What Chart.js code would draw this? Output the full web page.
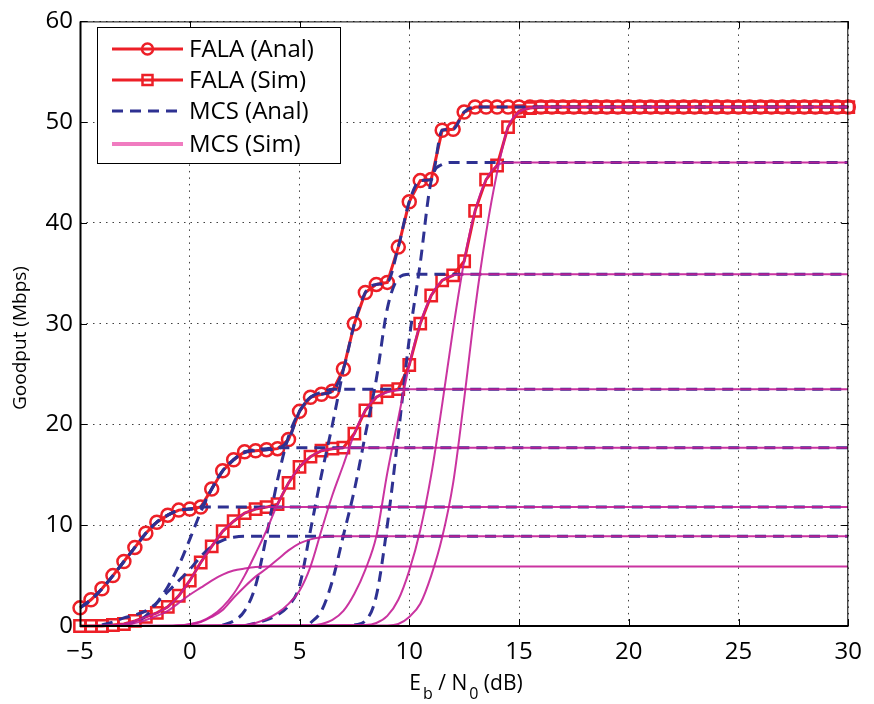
<!DOCTYPE html>
<html>
<head>
<meta charset="utf-8">
<title>Goodput vs Eb/N0</title>
<script src="https://cdn.jsdelivr.net/npm/chart.js@4.4.1/dist/chart.umd.min.js"></script>
<style>
  html, body { margin: 0; padding: 0; background: #fff; }
  #wrap { width: 874px; height: 704px; }
</style>
</head>
<body>
<div id="wrap"><canvas id="goodput-chart"></canvas></div>
<script>
// axis ticks
const xTicks = [-5, 0, 5, 10, 15, 20, 25, 30];
const yTicks = [0, 10, 20, 30, 40, 50, 60];

// Eb/N0 grid of the FALA curves (dB)
const snrGrid = [-5, -4.5, -4, -3.5, -3, -2.5, -2, -1.5, -1, -0.5, 0, 0.5, 1, 1.5, 2, 2.5, 3, 3.5, 4, 4.5,
    5, 5.5, 6, 6.5, 7, 7.5, 8, 8.5, 9, 9.5, 10, 10.5, 11, 11.5, 12, 12.5, 13, 13.5, 14, 14.5,
    15, 15.5, 16, 16.5, 17, 17.5, 18, 18.5, 19, 19.5, 20, 20.5, 21, 21.5, 22, 22.5, 23, 23.5, 24, 24.5,
    25, 25.5, 26, 26.5, 27, 27.5, 28, 28.5, 29, 29.5, 30];

// FALA goodput (Mbps)
const falaAnal = [1.8, 2.6, 3.7, 5.0, 6.4, 7.8, 9.2, 10.3, 11.0, 11.5, 11.6, 11.8, 13.6, 15.4, 16.5, 17.3, 17.4, 17.5, 17.6, 18.5,
    21.3, 22.7, 23.0, 23.3, 25.5, 30.0, 33.1, 33.9, 34.1, 37.6, 42.1, 44.2, 44.3, 49.2, 49.3, 51.0, 51.5, 51.5, 51.5, 51.5,
    51.5, 51.5, 51.5, 51.5, 51.5, 51.5, 51.5, 51.5, 51.5, 51.5, 51.5, 51.5, 51.5, 51.5, 51.5, 51.5, 51.5, 51.5, 51.5, 51.5,
    51.5, 51.5, 51.5, 51.5, 51.5, 51.5, 51.5, 51.5, 51.5, 51.5, 51.5];
const falaSim = [0, 0, 0, 0.1, 0.2, 0.5, 0.9, 1.3, 1.9, 3.0, 4.5, 6.3, 7.9, 9.4, 10.4, 11.2, 11.6, 11.8, 12.1, 14.2,
    15.8, 16.8, 17.4, 17.6, 17.7, 19.1, 21.4, 22.7, 23.3, 23.5, 25.9, 30.0, 32.8, 34.3, 34.8, 36.2, 41.2, 44.3, 45.7, 49.5,
    51.1, 51.4, 51.5, 51.5, 51.5, 51.5, 51.5, 51.5, 51.5, 51.5, 51.5, 51.5, 51.5, 51.5, 51.5, 51.5, 51.5, 51.5, 51.5, 51.5,
    51.5, 51.5, 51.5, 51.5, 51.5, 51.5, 51.5, 51.5, 51.5, 51.5, 51.5];

// MCS simulation curves
const sim59X = [-5, -3.5, -3, -2.5, -2, -1.5, -1, -0.5, 0, 0.5, 1, 1.5, 2, 2.5, 3, 3.5, 4, 30];
const sim59Y = [0, 0, 0.1, 0.3, 0.6, 1.0, 1.5, 2.3, 3.1, 3.8, 4.5, 5.1, 5.5, 5.7, 5.85, 5.9, 5.9, 5.9];
const sim89X = [-5, -1, -0.5, 0, 0.5, 1, 1.5, 2, 2.5, 3, 3.5, 4, 4.5, 5, 5.5, 6, 6.5, 7, 30];
const sim89Y = [0, 0, 0.05, 0.15, 0.4, 0.9, 1.6, 2.8, 3.9, 4.9, 5.7, 6.6, 7.5, 8.2, 8.6, 8.8, 8.9, 8.9, 8.9];
const sim118X = [-5, -3.5, -3, -2.5, -2, -1.5, -1, -0.5, 0, 0.5, 1, 1.5, 2, 2.5, 3, 3.5, 4, 30];
const sim118Y = [0, 0.1, 0.2, 0.5, 0.9, 1.3, 1.9, 3.0, 4.5, 6.3, 7.9, 9.4, 10.4, 11.2, 11.6, 11.8, 11.8, 11.8];
const sim177X = [-5, -1, -0.5, 0, 0.5, 1, 1.5, 2, 2.5, 3, 3.5, 4, 4.5, 5, 5.5, 6, 6.5, 7, 30];
const sim177Y = [0, 0, 0.05, 0.2, 0.45, 1.0, 1.9, 3.2, 5.0, 7.2, 9.5, 12.1, 14.2, 15.8, 16.8, 17.4, 17.6, 17.7, 17.7];
const sim235X = [-5, 2.5, 3, 3.5, 4, 4.5, 5, 5.5, 6, 6.5, 7, 7.5, 8, 8.5, 9, 9.5, 10, 30];
const sim235Y = [0, 0.1, 0.3, 0.7, 1.3, 2.2, 3.5, 5.9, 9.5, 13.0, 16.0, 19.1, 21.4, 22.7, 23.2, 23.4, 23.5, 23.5];
const sim349X = [-5, 5.5, 6, 6.5, 7, 7.5, 8, 8.5, 9, 9.5, 10, 10.5, 11, 11.5, 12, 12.5, 30];
const sim349Y = [0, 0.05, 0.2, 0.6, 1.5, 3.2, 5.6, 8.9, 15.2, 20.6, 25.9, 30.0, 32.8, 34.3, 34.8, 34.9, 34.9];
const sim460X = [-5, 8, 8.5, 9, 9.5, 10, 10.5, 11, 11.5, 12, 12.5, 13, 13.5, 14, 14.5, 15, 30];
const sim460Y = [0, 0.1, 0.3, 1.0, 2.6, 5.5, 9.5, 15.0, 22.0, 29.5, 36.2, 41.2, 44.3, 45.7, 46.0, 46.0, 46.0];
const sim515X = [-5, 9, 9.5, 10, 10.5, 11, 11.5, 12, 12.5, 13, 13.5, 14, 14.5, 15, 15.5, 16, 30];
const sim515Y = [0, 0.05, 0.2, 0.9, 2.2, 5.0, 8.8, 14.2, 22.5, 31.5, 39.0, 45.0, 49.5, 51.0, 51.4, 51.5, 51.5];

// MCS analytical curves
const ana89X = [-4, -3.5, -3, -2.5, -2, -1.5, -1, -0.5, 0, 0.5, 1, 1.5, 2, 2.5, 30];
const ana89Y = [0.1, 0.4, 0.8, 1.1, 1.5, 2.3, 3.4, 4.5, 5.6, 6.9, 7.9, 8.5, 8.8, 8.9, 8.9];
const ana118X = [-5, -4.5, -4, -3.5, -3, -2.5, -2, -1.5, -1, -0.5, 0, 0.5, 30];
const ana118Y = [1.8, 2.6, 3.7, 5.0, 6.4, 7.8, 9.2, 10.3, 11.0, 11.5, 11.6, 11.8, 11.8];
const ana177X = [-3, -2.5, -2, -1.5, -1, -0.5, 0, 0.5, 1, 1.5, 2, 2.5, 3, 3.5, 4, 30];
const ana177Y = [0.1, 0.4, 1.0, 2.3, 3.9, 6.0, 8.6, 11.3, 13.6, 15.4, 16.5, 17.2, 17.5, 17.6, 17.7, 17.7];
const ana235X = [1.5, 2, 2.5, 3, 3.5, 4, 4.5, 5, 5.5, 6, 6.5, 30];
const ana235Y = [0.1, 0.5, 1.5, 4.0, 9.0, 14.5, 18.8, 21.3, 22.7, 23.2, 23.5, 23.5];
const ana349aX = [2.5, 3, 3.5, 4, 4.5, 5, 5.5, 6, 6.5, 7];
const ana349aY = [0, 0.3, 0.6, 1.1, 2.0, 4.0, 9.5, 15.0, 20.0, 25.5];
const ana349X = [5.5, 6, 6.5, 7, 7.5, 8, 8.5, 9, 9.5, 10, 30];
const ana349Y = [0.3, 1.5, 4.5, 9.0, 13.5, 19.0, 24.5, 31.5, 34.5, 34.9, 34.9];
const ana460X = [7.5, 8, 8.5, 9, 9.5, 10, 10.5, 11, 11.5, 12, 30];
const ana460Y = [0.1, 0.5, 3.0, 10.0, 19.0, 28.5, 36.0, 44.2, 45.8, 46.0, 46.0];

const RED = '#ED1F27';
const BLUE = '#2E3192';
const MAGENTA = 'rgba(196, 30, 150, 0.9)';
const FONT = '"Open Sans", "DejaVu Sans", sans-serif';

function zip(xs, ys) {
    return xs.map(function(x, i) { return { x: x, y: ys[i] }; });
}

function simSet(xs, ys) {
    return {
        label: 'MCS (Sim)', data: zip(xs, ys), borderColor: MAGENTA, borderWidth: 2,
        pointRadius: 0, cubicInterpolationMode: 'monotone', order: 1
    };
}

function anaSet(xs, ys) {
    return {
        label: 'MCS (Anal)', data: zip(xs, ys), borderColor: BLUE, borderWidth: 3,
        borderDash: [11, 7], pointRadius: 0, cubicInterpolationMode: 'monotone', order: 2
    };
}

const datasets = [
    {
        label: 'FALA (Anal)', data: zip(snrGrid, falaAnal), borderColor: RED, borderWidth: 3,
        pointStyle: 'circle', pointRadius: 6.5, pointBorderWidth: 2.5, pointBorderColor: RED,
        pointBackgroundColor: 'rgba(0,0,0,0)', clip: false, order: 4
    },
    {
        label: 'FALA (Sim)', data: zip(snrGrid, falaSim), borderColor: RED, borderWidth: 3,
        pointStyle: 'rect', pointRadius: 8, pointBorderWidth: 2.5, pointBorderColor: RED,
        pointBackgroundColor: 'rgba(0,0,0,0)', clip: false, order: 3
    },
    // dashed analytical envelope drawn over the FALA (Anal) line
    anaSet(snrGrid, falaAnal),
    anaSet(ana89X, ana89Y),
    anaSet(ana118X, ana118Y),
    anaSet(ana177X, ana177Y),
    anaSet(ana235X, ana235Y),
    anaSet(ana349aX, ana349aY),
    anaSet(ana349X, ana349Y),
    anaSet(ana460X, ana460Y),
    simSet(sim59X, sim59Y),
    simSet(sim89X, sim89Y),
    simSet(sim118X, sim118Y),
    simSet(sim177X, sim177Y),
    simSet(sim235X, sim235Y),
    simSet(sim349X, sim349Y),
    simSet(sim460X, sim460Y),
    simSet(sim515X, sim515Y)
];

// box, inner ticks, axis titles and legend
const framePlugin = {
    id: 'frame',
    afterDatasetsDraw: function(chart) {
        const ctx = chart.ctx;
        const a = chart.chartArea;
        const sx = chart.scales.x;
        const sy = chart.scales.y;
        ctx.save();
        ctx.strokeStyle = '#000';
        ctx.lineWidth = 1;
        ctx.strokeRect(a.left + 0.5, a.top + 0.5, a.right - a.left - 1, a.bottom - a.top - 1);
        ctx.lineWidth = 2;
        ctx.beginPath();
        ctx.moveTo(a.left + 0.5, a.top);
        ctx.lineTo(a.left + 0.5, a.bottom);
        ctx.lineTo(a.right, a.bottom);
        ctx.stroke();
        ctx.lineWidth = 1;
        ctx.beginPath();
        xTicks.forEach(function(v) {
            const px = Math.round(sx.getPixelForValue(v)) + 0.5;
            ctx.moveTo(px, a.bottom); ctx.lineTo(px, a.bottom - 7);
            ctx.moveTo(px, a.top); ctx.lineTo(px, a.top + 7);
        });
        yTicks.forEach(function(v) {
            const py = Math.round(sy.getPixelForValue(v)) + 0.5;
            ctx.moveTo(a.left, py); ctx.lineTo(a.left + 7, py);
            ctx.moveTo(a.right, py); ctx.lineTo(a.right - 7, py);
        });
        ctx.stroke();
        ctx.restore();
    },
    afterDraw: function(chart) {
        const ctx = chart.ctx;
        ctx.save();
        ctx.fillStyle = '#000';

        // y title
        ctx.font = '19px ' + FONT;
        ctx.textAlign = 'center';
        ctx.textBaseline = 'middle';
        ctx.translate(21, 338);
        ctx.rotate(-Math.PI / 2);
        ctx.fillText('Goodput (Mbps)', 0, 0);
        ctx.setTransform(1, 0, 0, 1, 0, 0);

        // x title with subscripts
        const parts = [['E', false], ['b', true], [' / N', false], ['0', true], [' (dB)', false]];
        const big = '21px ' + FONT;
        const small = '16px ' + FONT;
        let total = 0;
        parts.forEach(function(p) { ctx.font = p[1] ? small : big; total += ctx.measureText(p[0]).width + (p[1] ? 2 : 0); });
        let cx = 466 - total / 2;
        ctx.textAlign = 'left';
        ctx.textBaseline = 'alphabetic';
        parts.forEach(function(p) {
            ctx.font = p[1] ? small : big;
            ctx.fillText(p[0], cx + (p[1] ? 2 : 0), p[1] ? 699 : 690);
            cx += ctx.measureText(p[0]).width + (p[1] ? 2 : 0);
        });

        // legend
        const bx = 97, by = 27, bw = 243, bh = 136;
        ctx.fillStyle = '#fff';
        ctx.fillRect(bx, by, bw, bh);
        ctx.strokeStyle = '#000';
        ctx.lineWidth = 1;
        ctx.strokeRect(bx + 0.5, by + 0.5, bw, bh);
        const rows = [49, 80, 111, 144];
        const labels = ['FALA (Anal)', 'FALA (Sim)', 'MCS (Anal)', 'MCS (Sim)'];
        const x0 = 112, x1 = 183, xm = 147.5;
        rows.forEach(function(y, i) {
            ctx.save();
            ctx.beginPath();
            if (i === 0 || i === 1) {
                ctx.strokeStyle = RED; ctx.lineWidth = 3;
            } else if (i === 2) {
                ctx.strokeStyle = BLUE; ctx.lineWidth = 3; ctx.setLineDash([11, 7]);
            } else {
                ctx.strokeStyle = '#F07CC0'; ctx.lineWidth = 4;
            }
            ctx.moveTo(x0, y); ctx.lineTo(x1, y);
            ctx.stroke();
            ctx.setLineDash([]);
            ctx.lineWidth = 2.5;
            if (i === 0) {
                ctx.beginPath(); ctx.arc(xm, y, 5.5, 0, Math.PI * 2); ctx.stroke();
            } else if (i === 1) {
                ctx.strokeRect(xm - 5, y - 5, 10, 10);
            }
            ctx.restore();
            ctx.fillStyle = '#000';
            ctx.font = '24px ' + FONT;
            ctx.textAlign = 'left';
            ctx.textBaseline = 'middle';
            ctx.fillText(labels[i], 189, y + 1);
        });
        ctx.restore();
    }
};

function minusLabel(v) {
    return v < 0 ? '\u2212' + Math.abs(v) : String(v);
}

new Chart(document.getElementById('goodput-chart'), {
    type: 'line',
    data: { datasets: datasets },
    options: {
        responsive: true,
        maintainAspectRatio: false,
        animation: false,
        layout: { padding: { left: 0, right: 17, top: 16, bottom: 0 } },
        plugins: { legend: { display: false }, tooltip: { enabled: false } },
        scales: {
            x: {
                type: 'linear', min: -5, max: 30,
                afterBuildTicks: function(s) { s.ticks = xTicks.map(function(v) { return { value: v }; }); },
                afterFit: function(s) { s.height = 78; },
                grid: { color: 'rgba(0,0,0,0.75)', lineWidth: 1, drawTicks: false },
                border: { display: false, dash: [1.5, 5] },
                ticks: { color: '#000', padding: 12, font: { family: FONT, size: 24 }, callback: minusLabel, maxRotation: 0 }
            },
            y: {
                type: 'linear', min: 0, max: 60,
                afterBuildTicks: function(s) { s.ticks = yTicks.map(function(v) { return { value: v }; }); },
                afterFit: function(s) { s.width = 80; },
                grid: { color: 'rgba(0,0,0,0.75)', lineWidth: 1, drawTicks: false },
                border: { display: false, dash: [1.5, 5] },
                ticks: { color: '#000', padding: 7, font: { family: FONT, size: 24 } }
            }
        }
    },
    plugins: [framePlugin]
});
</script>
</body>
</html>
